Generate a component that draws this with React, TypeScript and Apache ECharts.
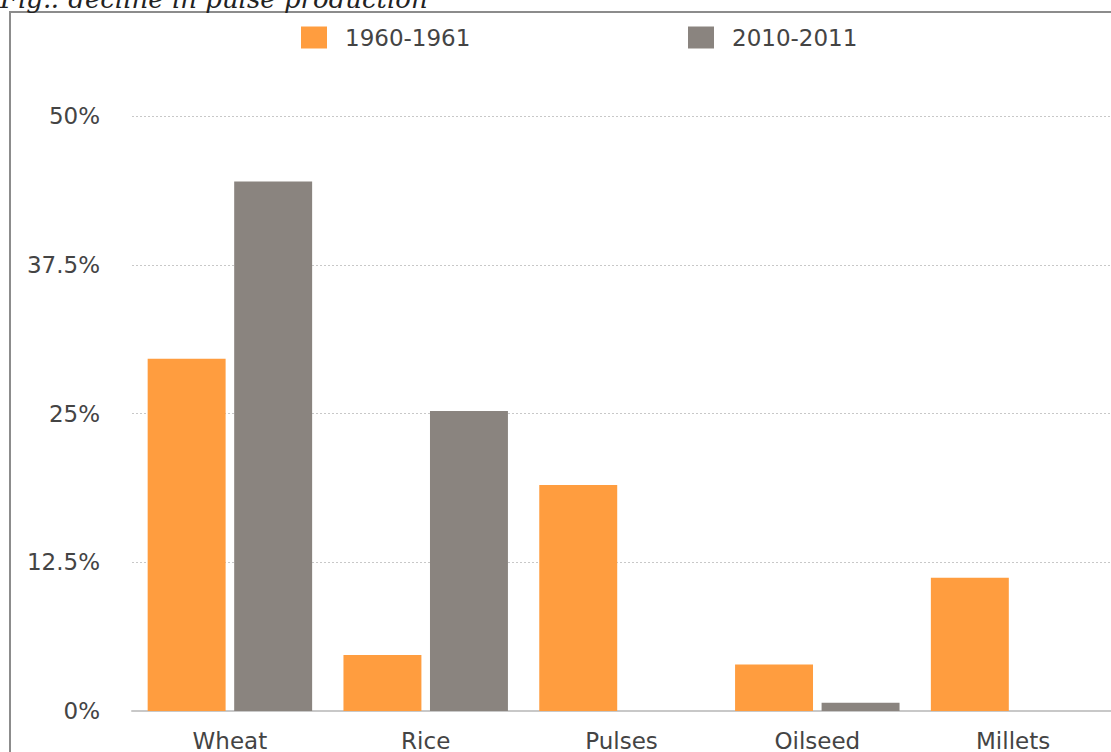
import React, { useEffect, useRef } from "react";
import * as echarts from "echarts";

const categories = ["Wheat", "Rice", "Pulses", "Oilseed", "Millets"];
const series1960 = [29.6, 4.7, 19.0, 3.9, 11.2];
const series2010 = [44.5, 25.2, 0, 0.7, 0];
const seriesNames = ["1960-1961", "2010-2011"];
const titleText = "Fig.: decline in pulse production";

const ORANGE = "#FF9D3F";
const GRAY = "#8A847F";
const TEXT = "#444444";
const FONT = "DejaVu Sans";

export default function App() {
  const ref = useRef<HTMLDivElement>(null);
  useEffect(() => {
    if (!ref.current) return;
    const chart = echarts.init(ref.current, null, { renderer: "svg" });
    chart.setOption({
      animation: false,
      backgroundColor: "#ffffff",
      graphic: [
        {
          type: "rect",
          shape: { x: 10, y: 12, width: 1300, height: 900 },
          style: { fill: "none", stroke: "#8c8c8c", lineWidth: 2 },
          z: 0,
        },
        {
          type: "text",
          x: 0,
          y: 12,
          style: {
            text: titleText,
            font: "italic 26px 'DejaVu Serif'",
            fill: "#222",
            verticalAlign: "bottom",
          },
        },
      ],
      legend: [
        {
          data: [seriesNames[0]],
          left: 296,
          top: 21,
          itemWidth: 26,
          itemHeight: 22,
          icon: "rect",
          textStyle: { color: TEXT, fontSize: 23, fontFamily: FONT, padding: [0, 0, 0, 13] },
        },
        {
          data: [seriesNames[1]],
          left: 683,
          top: 21,
          itemWidth: 26,
          itemHeight: 22,
          icon: "rect",
          textStyle: { color: TEXT, fontSize: 23, fontFamily: FONT, padding: [0, 0, 0, 13] },
        },
      ],
      grid: { left: 132, top: 116, width: 985, bottom: 40, containLabel: false },
      xAxis: {
        type: "category",
        data: categories,
        axisLine: { lineStyle: { color: "#c8c8c8", width: 2 } },
        axisTick: { show: false },
        axisLabel: { color: TEXT, fontSize: 23, fontFamily: FONT, margin: 18 },
      },
      yAxis: {
        type: "value",
        min: 0,
        max: 50,
        interval: 12.5,
        axisLine: { show: false },
        axisTick: { show: false },
        axisLabel: {
          color: TEXT,
          fontSize: 23,
          fontFamily: FONT,
          margin: 32,
          formatter: (v: number) => `${v}%`,
        },
        splitLine: { lineStyle: { color: "#c8c8c8", type: [2, 2], width: 1 } },
      },
      series: [
        {
          name: seriesNames[0],
          type: "bar",
          data: series1960,
          itemStyle: { color: ORANGE },
          barGap: "11%",
          barCategoryGap: "16%",
        },
        {
          name: seriesNames[1],
          type: "bar",
          data: series2010,
          itemStyle: { color: GRAY },
          barGap: "11%",
          barCategoryGap: "16%",
        },
      ],
    });
    return () => chart.dispose();
  }, []);
  return (
    <div
      ref={ref}
      style={{ position: "absolute", left: 0, top: 0, width: 1111, height: 752 }}
    />
  );
}
